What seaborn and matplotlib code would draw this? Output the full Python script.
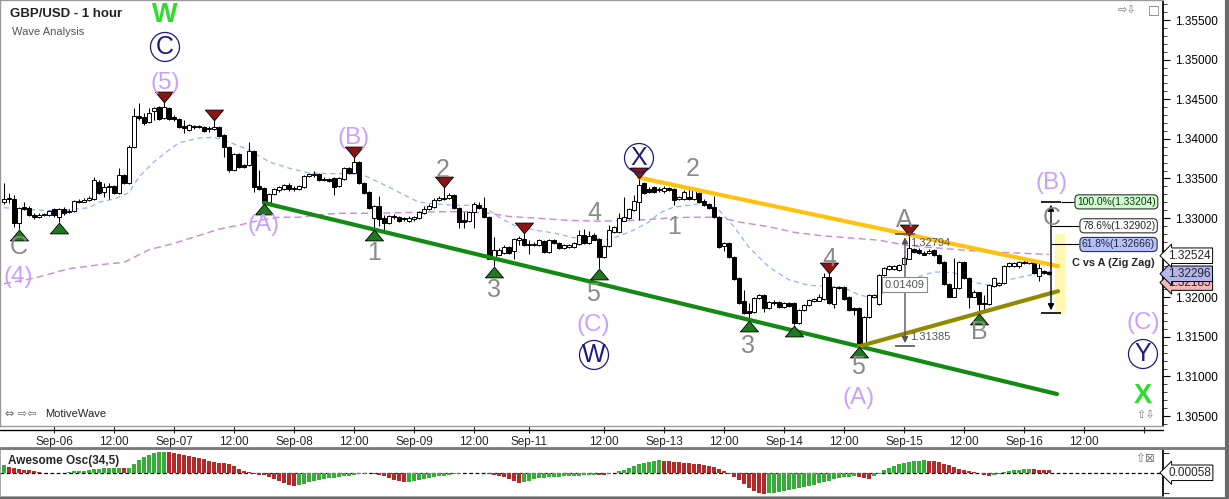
import numpy as np
import pandas as pd
import matplotlib
matplotlib.use("Agg")
import matplotlib.pyplot as plt
import seaborn as sns
from matplotlib.lines import Line2D
from matplotlib.path import Path
from matplotlib.patches import Rectangle
from matplotlib.ticker import MultipleLocator, FuncFormatter, NullFormatter

sns.set_theme(style="white")
plt.rcParams["font.family"] = ["Liberation Sans", "DejaVu Sans"]

# =========================
# 1. data (GBP/USD 1h bars)
# =========================
opens = [
    1.3321, 1.3324, 1.3324, 1.3294, 1.3314, 1.3313, 1.3304, 1.3302, 1.3304, 1.3304,
    1.3311, 1.3301, 1.3311, 1.3308, 1.3309, 1.3321, 1.3321, 1.3323, 1.3324, 1.3345,
    1.3333, 1.3339, 1.3340, 1.3332, 1.3354, 1.3344, 1.3390, 1.3429, 1.3428, 1.3421,
    1.3435, 1.3440, 1.3426, 1.3439, 1.3428, 1.3425, 1.3416, 1.3411, 1.3416, 1.3415,
    1.3415, 1.3412, 1.3412, 1.3415, 1.3405, 1.3390, 1.3361, 1.3381, 1.3367, 1.3367,
    1.3385, 1.3340, 1.3338, 1.3320, 1.3330, 1.3335, 1.3337, 1.3342, 1.3337, 1.3337,
    1.3339, 1.3353, 1.3354, 1.3356, 1.3349, 1.3349, 1.3351, 1.3340, 1.3349, 1.3363,
    1.3357, 1.3371, 1.3344, 1.3333, 1.3300, 1.3315, 1.3300, 1.3294, 1.3302, 1.3301,
    1.3300, 1.3296, 1.3299, 1.3300, 1.3306, 1.3311, 1.3314, 1.3323, 1.3324, 1.3325,
    1.3329, 1.3313, 1.3297, 1.3296, 1.3308, 1.3316, 1.3313, 1.3301, 1.3249, 1.3254,
    1.3256, 1.3263, 1.3258, 1.3272, 1.3273, 1.3267, 1.3266, 1.3266, 1.3271, 1.3257,
    1.3272, 1.3268, 1.3262, 1.3263, 1.3263, 1.3267, 1.3278, 1.3268, 1.3278, 1.3273,
    1.3251, 1.3265, 1.3282, 1.3282, 1.3297, 1.3300, 1.3310, 1.3321, 1.3344, 1.3337,
    1.3339, 1.3335, 1.3334, 1.3338, 1.3337, 1.3324, 1.3324, 1.3326, 1.3324, 1.3332,
    1.3321, 1.3318, 1.3314, 1.3301, 1.3265, 1.3268, 1.3251, 1.3224, 1.3195, 1.3183,
    1.3181, 1.3199, 1.3203, 1.3186, 1.3194, 1.3194, 1.3188, 1.3193, 1.3193, 1.3167,
    1.3184, 1.3190, 1.3195, 1.3196, 1.3198, 1.3225, 1.3191, 1.3213, 1.3213, 1.3200,
    1.3186, 1.3186, 1.3141, 1.3175, 1.3200, 1.3191, 1.3228, 1.3236, 1.3236, 1.3234,
    1.3242, 1.3249, 1.3261, 1.3260, 1.3256, 1.3256, 1.3260, 1.3253, 1.3244, 1.3217,
    1.3201, 1.3212, 1.3244, 1.3224, 1.3201, 1.3206, 1.3193, 1.3191, 1.3214, 1.3215,
    1.3218, 1.3239, 1.3239, 1.3239, 1.3243, 1.3243, 1.3246, 1.3227, 1.3233, 1.3232,
]
highs = [
    1.3344, 1.3332, 1.3329, 1.3314, 1.3320, 1.3315, 1.3306, 1.3306, 1.3306, 1.3310,
    1.3313, 1.3313, 1.3314, 1.3311, 1.3323, 1.3324, 1.3325, 1.3328, 1.3352, 1.3348,
    1.3344, 1.3344, 1.3342, 1.3363, 1.3356, 1.3392, 1.3439, 1.3445, 1.3433, 1.3439,
    1.3440, 1.3441, 1.3447, 1.3440, 1.3430, 1.3426, 1.3424, 1.3419, 1.3417, 1.3417,
    1.3416, 1.3416, 1.3424, 1.3416, 1.3406, 1.3391, 1.3382, 1.3382, 1.3368, 1.3396,
    1.3386, 1.3361, 1.3339, 1.3332, 1.3338, 1.3340, 1.3343, 1.3344, 1.3340, 1.3342,
    1.3354, 1.3357, 1.3359, 1.3357, 1.3352, 1.3351, 1.3352, 1.3352, 1.3364, 1.3364,
    1.3377, 1.3372, 1.3345, 1.3334, 1.3316, 1.3328, 1.3304, 1.3304, 1.3305, 1.3302,
    1.3301, 1.3302, 1.3302, 1.3309, 1.3315, 1.3318, 1.3325, 1.3328, 1.3339, 1.3332,
    1.3330, 1.3314, 1.3308, 1.3309, 1.3320, 1.3320, 1.3326, 1.3302, 1.3276, 1.3262,
    1.3266, 1.3265, 1.3275, 1.3277, 1.3281, 1.3272, 1.3270, 1.3273, 1.3272, 1.3273,
    1.3273, 1.3270, 1.3267, 1.3267, 1.3270, 1.3285, 1.3286, 1.3284, 1.3281, 1.3275,
    1.3266, 1.3291, 1.3290, 1.3306, 1.3326, 1.3313, 1.3329, 1.3351, 1.3345, 1.3339,
    1.3340, 1.3339, 1.3340, 1.3339, 1.3338, 1.3328, 1.3335, 1.3338, 1.3338, 1.3333,
    1.3324, 1.3319, 1.3328, 1.3302, 1.3270, 1.3270, 1.3252, 1.3225, 1.3209, 1.3193,
    1.3200, 1.3204, 1.3204, 1.3195, 1.3196, 1.3195, 1.3194, 1.3194, 1.3194, 1.3185,
    1.3191, 1.3198, 1.3199, 1.3204, 1.3231, 1.3231, 1.3214, 1.3214, 1.3214, 1.3201,
    1.3188, 1.3188, 1.3176, 1.3204, 1.3204, 1.3229, 1.3238, 1.3241, 1.3241, 1.3242,
    1.3252, 1.3279, 1.3262, 1.3262, 1.3258, 1.3261, 1.3261, 1.3254, 1.3246, 1.3218,
    1.3249, 1.3246, 1.3246, 1.3225, 1.3209, 1.3207, 1.3203, 1.3217, 1.3225, 1.3219,
    1.3241, 1.3244, 1.3244, 1.3246, 1.3247, 1.3249, 1.3247, 1.3243, 1.3234, 1.3233,
]
lows = [
    1.3318, 1.3319, 1.3289, 1.3286, 1.3310, 1.3302, 1.3299, 1.3300, 1.3302, 1.3302,
    1.3301, 1.3295, 1.3304, 1.3306, 1.3308, 1.3319, 1.3320, 1.3321, 1.3323, 1.3330,
    1.3326, 1.3324, 1.3330, 1.3330, 1.3343, 1.3343, 1.3388, 1.3424, 1.3417, 1.3420,
    1.3424, 1.3424, 1.3425, 1.3424, 1.3422, 1.3414, 1.3407, 1.3410, 1.3412, 1.3414,
    1.3409, 1.3409, 1.3411, 1.3402, 1.3377, 1.3358, 1.3359, 1.3363, 1.3363, 1.3366,
    1.3333, 1.3335, 1.3319, 1.3319, 1.3329, 1.3333, 1.3335, 1.3334, 1.3334, 1.3335,
    1.3338, 1.3352, 1.3352, 1.3347, 1.3347, 1.3345, 1.3329, 1.3339, 1.3348, 1.3356,
    1.3356, 1.3343, 1.3330, 1.3311, 1.3286, 1.3290, 1.3284, 1.3292, 1.3299, 1.3295,
    1.3296, 1.3295, 1.3296, 1.3299, 1.3305, 1.3310, 1.3313, 1.3321, 1.3323, 1.3324,
    1.3311, 1.3287, 1.3287, 1.3295, 1.3287, 1.3311, 1.3300, 1.3248, 1.3239, 1.3253,
    1.3254, 1.3254, 1.3248, 1.3266, 1.3265, 1.3254, 1.3265, 1.3265, 1.3256, 1.3256,
    1.3267, 1.3261, 1.3261, 1.3262, 1.3262, 1.3266, 1.3267, 1.3267, 1.3272, 1.3237,
    1.3249, 1.3263, 1.3281, 1.3281, 1.3296, 1.3299, 1.3309, 1.3297, 1.3330, 1.3332,
    1.3332, 1.3333, 1.3332, 1.3334, 1.3316, 1.3323, 1.3323, 1.3323, 1.3323, 1.3319,
    1.3315, 1.3311, 1.3300, 1.3262, 1.3258, 1.3249, 1.3222, 1.3191, 1.3179, 1.3171,
    1.3180, 1.3198, 1.3181, 1.3185, 1.3190, 1.3186, 1.3186, 1.3188, 1.3165, 1.3166,
    1.3183, 1.3189, 1.3194, 1.3195, 1.3196, 1.3191, 1.3186, 1.3210, 1.3196, 1.3183,
    1.3177, 1.3138, 1.3140, 1.3174, 1.3199, 1.3190, 1.3227, 1.3234, 1.3234, 1.3233,
    1.3241, 1.3248, 1.3256, 1.3254, 1.3253, 1.3254, 1.3252, 1.3242, 1.3215, 1.3200,
    1.3200, 1.3210, 1.3223, 1.3186, 1.3200, 1.3180, 1.3184, 1.3190, 1.3213, 1.3214,
    1.3217, 1.3238, 1.3238, 1.3237, 1.3242, 1.3242, 1.3229, 1.3220, 1.3229, 1.3228,
]
closes = [
    1.3324, 1.3325, 1.3294, 1.3313, 1.3311, 1.3304, 1.3301, 1.3304, 1.3305, 1.3309,
    1.3304, 1.3311, 1.3306, 1.3309, 1.3321, 1.3320, 1.3323, 1.3325, 1.3348, 1.3332,
    1.3339, 1.3340, 1.3332, 1.3354, 1.3345, 1.3390, 1.3429, 1.3426, 1.3420, 1.3433,
    1.3439, 1.3425, 1.3440, 1.3425, 1.3425, 1.3415, 1.3414, 1.3417, 1.3415, 1.3416,
    1.3410, 1.3414, 1.3415, 1.3404, 1.3390, 1.3361, 1.3381, 1.3364, 1.3364, 1.3385,
    1.3339, 1.3337, 1.3320, 1.3330, 1.3337, 1.3339, 1.3342, 1.3337, 1.3338, 1.3340,
    1.3353, 1.3356, 1.3356, 1.3348, 1.3348, 1.3347, 1.3339, 1.3351, 1.3363, 1.3357,
    1.3371, 1.3344, 1.3332, 1.3313, 1.3315, 1.3299, 1.3294, 1.3302, 1.3301, 1.3296,
    1.3299, 1.3300, 1.3301, 1.3308, 1.3311, 1.3315, 1.3323, 1.3325, 1.3325, 1.3329,
    1.3313, 1.3295, 1.3295, 1.3308, 1.3318, 1.3313, 1.3301, 1.3249, 1.3260, 1.3260,
    1.3263, 1.3256, 1.3273, 1.3275, 1.3266, 1.3266, 1.3267, 1.3272, 1.3257, 1.3272,
    1.3268, 1.3262, 1.3266, 1.3266, 1.3268, 1.3278, 1.3268, 1.3277, 1.3273, 1.3251,
    1.3265, 1.3285, 1.3289, 1.3300, 1.3301, 1.3311, 1.3321, 1.3342, 1.3332, 1.3333,
    1.3333, 1.3337, 1.3338, 1.3335, 1.3323, 1.3326, 1.3333, 1.3324, 1.3337, 1.3320,
    1.3316, 1.3313, 1.3301, 1.3263, 1.3268, 1.3251, 1.3223, 1.3193, 1.3180, 1.3180,
    1.3199, 1.3203, 1.3186, 1.3194, 1.3193, 1.3188, 1.3193, 1.3189, 1.3167, 1.3184,
    1.3190, 1.3196, 1.3198, 1.3200, 1.3225, 1.3193, 1.3213, 1.3212, 1.3198, 1.3184,
    1.3184, 1.3141, 1.3175, 1.3203, 1.3203, 1.3228, 1.3237, 1.3239, 1.3239, 1.3241,
    1.3249, 1.3262, 1.3257, 1.3256, 1.3254, 1.3258, 1.3253, 1.3243, 1.3217, 1.3201,
    1.3212, 1.3244, 1.3224, 1.3201, 1.3207, 1.3191, 1.3191, 1.3215, 1.3224, 1.3218,
    1.3239, 1.3243, 1.3243, 1.3244, 1.3244, 1.3246, 1.3231, 1.3237, 1.3231, 1.3230,
]

# moving averages, read at a few bars
fast_ma_bar = [0, 7, 11, 17, 19, 22, 25, 26, 27, 30, 33, 35, 39, 42, 45, 49, 53, 57, 61, 65,
               69, 72, 74, 77, 81, 83, 86, 90, 94, 97, 99, 102, 106, 110, 114, 118, 120, 123,
               126, 129, 131, 134, 137, 139, 141, 143, 146, 149, 153, 157, 161, 165, 168, 171,
               173, 176, 179, 182, 186, 190, 194, 197, 199, 203, 206, 209]
fast_ma = [1.3313, 1.3310, 1.3309, 1.3313, 1.3320, 1.3324, 1.3332, 1.3342, 1.3352, 1.3371,
           1.3386, 1.3395, 1.3401, 1.3402, 1.3396, 1.3386, 1.3371, 1.3363, 1.3357, 1.3356,
           1.3356, 1.3354, 1.3348, 1.3339, 1.3326, 1.3320, 1.3318, 1.3316, 1.3316, 1.3310,
           1.3301, 1.3291, 1.3285, 1.3281, 1.3275, 1.3275, 1.3272, 1.3277, 1.3285, 1.3295,
           1.3306, 1.3314, 1.3316, 1.3318, 1.3316, 1.3310, 1.3289, 1.3263, 1.3238, 1.3222,
           1.3215, 1.3214, 1.3212, 1.3203, 1.3200, 1.3205, 1.3213, 1.3224, 1.3232, 1.3231,
           1.3219, 1.3215, 1.3219, 1.3225, 1.3229, 1.3232]
slow_ma_bar = [0, 6, 13, 19, 24, 29, 34, 39, 43, 47, 51, 55, 59, 63, 67, 75, 87, 93, 97, 101,
               106, 113, 119, 126, 133, 137, 143, 147, 153, 158, 163, 175, 181, 187, 195, 202, 209]
slow_ma = [1.3217, 1.3224, 1.3236, 1.3241, 1.3244, 1.3260, 1.3268, 1.3278, 1.3286, 1.3291,
           1.3297, 1.3301, 1.3301, 1.3304, 1.3306, 1.3306, 1.3308, 1.3308, 1.3306, 1.3302,
           1.3300, 1.3297, 1.3296, 1.3297, 1.3300, 1.3301, 1.3301, 1.3295, 1.3289, 1.3282,
           1.3278, 1.3272, 1.3265, 1.3262, 1.3258, 1.3256, 1.3254]

# Awesome Osc(34,5), in pips
ao_pips = [
    19.1, 14.9, 12.5, 9.1, 6.6, 6.0, 3.3, 1.7, 0.5, -0.3,
    -0.5, -0.4, 0.2, 2.5, 3.3, 4.2, 5.0, 6.6, 8.3, 10.0,
    10.8, 11.6, 11.9, 12.2, 11.5, 12.5, 20.8, 31.5, 38.2, 44.0,
    49.8, 51.5, 52.0, 50.6, 48.1, 45.7, 44.0, 41.5, 38.2, 35.7,
    33.2, 29.9, 27.4, 24.9, 23.2, 20.8, 16.6, 10.0, 5.0, 1.7,
    -2.5, -5.0, -6.6, -10.0, -14.9, -19.9, -26.6, -31.5, -33.2, -30.7,
    -27.4, -24.1, -21.6, -19.1, -16.6, -14.1, -12.5, -10.8, -9.1, -7.5,
    -5.8, -4.2, -2.5, -1.7, -2.5, -5.0, -8.3, -13.3, -17.4, -20.8,
    -23.2, -22.4, -20.8, -18.3, -15.8, -13.3, -11.2, -9.1, -7.5, -5.8,
    -4.2, -2.5, -1.7, -0.8, -1.2, -0.5, -1.7, -3.3, -5.0, -7.5,
    -10.8, -15.8, -20.8, -24.9, -23.2, -19.9, -16.6, -14.1, -12.5, -11.6,
    -10.8, -10.0, -9.1, -8.7, -8.3, -7.5, -6.6, -5.8, -5.0, -5.4,
    -5.8, -3.3, -0.8, 3.3, 7.5, 11.6, 16.6, 20.8, 24.1, 27.4,
    29.9, 30.7, 29.9, 28.2, 26.6, 25.7, 24.1, 23.2, 22.4, 21.6,
    19.9, 17.4, 14.1, 10.0, 4.2, -4.2, -10.0, -18.3, -29.1, -37.4,
    -45.7, -49.8, -52.3, -51.5, -49.8, -48.1, -45.7, -43.2, -41.5, -39.0,
    -36.5, -33.2, -29.9, -26.6, -23.2, -19.9, -16.6, -14.1, -11.6, -10.0,
    -8.3, -10.0, -13.3, -14.9, -8.3, -2.5, 6.6, 11.6, 16.6, 20.8,
    24.9, 27.4, 29.1, 29.9, 30.7, 30.2, 29.1, 26.6, 22.4, 18.3,
    14.1, 10.0, 6.6, 4.2, 1.7, -1.7, -5.0, -8.3, -6.6, -3.3,
    0.8, 3.3, 5.8, 7.5, 9.1, 9.5, 8.3, 7.5, 6.6, 5.8,
]

tick_bars = [10, 22, 34, 46, 58, 70, 82, 94, 105, 120, 132, 144, 156, 168, 180, 192, 204, 216, 228]
tick_labels = ["Sep-06", "12:00", "Sep-07", "12:00", "Sep-08", "12:00", "Sep-09", "12:00",
               "Sep-11", "12:00", "Sep-13", "12:00", "Sep-14", "12:00", "Sep-15", "12:00",
               "Sep-16", "12:00", ""]

# wave labels: text, style, bar position, price position
wave_text = ["W", "C", "(5)", "C", "(4)", "(A)", "(B)", "1", "2", "3", "4", "5", "(C)", "W",
             "X", "2", "1", "3", "4", "A", "5", "(A)", "B", "(B)", "C", "(C)", "Y", "X"]
wave_kind = ["green", "circle", "purple", "gray", "purple", "purple", "purple", "gray", "gray",
             "gray", "gray", "gray", "purple", "circle", "circle", "gray", "gray", "gray", "gray",
             "gray", "gray", "purple", "gray", "purple", "gray", "purple", "circle", "green"]
wave_bar = [32.2, 32.2, 32.2, 3.0, 2.8, 52.0, 70.0, 74.0, 87.8, 98.0, 118.0, 117.8, 117.8, 118.0,
            127.0, 137.8, 134.0, 148.8, 165.0, 180.0, 170.8, 171.0, 195.0, 209.6, 209.6, 227.8,
            227.8, 227.8]
wave_price = [1.35564, 1.35160, 1.34705, 1.32660, 1.32256, 1.32912, 1.34011, 1.32596, 1.33632,
              1.32129, 1.33101, 1.32066, 1.31650, 1.31271, 1.33758, 1.33645, 1.32912, 1.31422,
              1.32508, 1.33001, 1.31145, 1.30728, 1.31587, 1.33442, 1.33038, 1.31675, 1.31283,
              1.30750]

swing_low_bars = [3, 11, 52, 74, 98, 119, 149, 158, 171, 195]
swing_high_bars = [32, 42, 70, 88, 104, 127, 165, 181]

# measurements
a_high, a_low = 1.32794, 1.31385
fib_top, fib_bottom = 1.33204, 1.31800
fib_levels = [1.33204, 1.32902, 1.32666]
fib_names = ["100.0%(1.33204)", "78.6%(1.32902)", "61.8%(1.32666)"]
fib_colors = ["#ccffcc", "#ffffff", "#b4c0ff"]
zone_top, zone_bottom = 1.3280, 1.3180

last_price, slow_last, third_last = 1.32296, 1.32524, 1.32185

bars = pd.DataFrame({"open": opens, "high": highs, "low": lows, "close": closes})
bars["bar"] = np.arange(len(bars))

# =========================
# 2. figure layout
# =========================
W, H = 1229, 499
fig = plt.figure(figsize=(W / 100, H / 100), dpi=100)
fig.patch.set_facecolor("white")
ax = fig.add_axes([0, 1 - 426 / H, 1163 / W, 426 / H])
ao_ax = fig.add_axes([0, 2 / H, 1163 / W, 48 / H])

ax.set_xlim(-0.8, 231.8)
ax.set_ylim(1.30374, 1.35753)
ao_ax.set_xlim(-0.8, 231.8)
ao_ax.set_ylim(-0.006075, 0.005925)

# =========================
# 3. candles + averages
# =========================
up = bars["close"] >= bars["open"]
ax.vlines(bars["bar"], bars["low"], bars["high"], color="black", lw=0.75, zorder=3)
ax.bar(bars["bar"], (bars["close"] - bars["open"]).abs() + 0.00003,
       bottom=bars[["open", "close"]].min(axis=1) - 0.000015, width=0.68,
       color=np.where(up, "white", "black"), edgecolor="black", linewidth=0.7, zorder=4)

sns.lineplot(x=fast_ma_bar, y=fast_ma, ax=ax, color="#8fb3ff", lw=0.9,
             linestyle=(0, (4, 3)), zorder=2)
sns.lineplot(x=slow_ma_bar, y=slow_ma, ax=ax, color="#c68ad6", lw=1.0,
             linestyle=(0, (5, 3)), zorder=2)


def trend(b1, p1, b2, p2, end, color):
    slope = (p2 - p1) / (b2 - b1)
    sns.lineplot(x=[b1, end], y=[p1, p1 + slope * (end - b1)], ax=ax, color=color,
                 lw=3, zorder=5)


trend(52, lows[52], 171, lows[171], 210.6, "#138a13")
trend(127, highs[127], 181, highs[181], 210.8, "#ffc20e")
trend(171, lows[171], 195, lows[195], 210.8, "#8f8a00")

ax.add_patch(Rectangle((210.2, zone_bottom), 2.0, zone_top - zone_bottom,
                       facecolor="#fff7a0", edgecolor="none", alpha=0.85, zorder=1))

# swing markers
tri_up = Path([(-1, -0.6), (1, -0.6), (0, 0.6), (-1, -0.6)])
tri_dn = Path([(-1, 0.6), (1, 0.6), (0, -0.6), (-1, 0.6)])
px = (ax.get_ylim()[1] - ax.get_ylim()[0]) / 426
ax.plot(swing_low_bars, [lows[b] - 6 * px for b in swing_low_bars], ls="none",
        marker=tri_up, ms=13, mfc="#1f7a1f", mec="black", mew=0.6, zorder=6)
ax.plot(swing_high_bars, [highs[b] + 5 * px for b in swing_high_bars], ls="none",
        marker=tri_dn, ms=13, mfc="#8b1414", mec="black", mew=0.6, zorder=6)

# wave labels
for t, k, b, p in zip(wave_text, wave_kind, wave_bar, wave_price):
    if k == "green":
        ax.text(b, p, t, color="#2ddc2d", fontsize=19.5, fontweight="bold",
                ha="center", va="center", zorder=7)
    elif k == "purple":
        ax.text(b, p, t, color="#c9a0ff", fontsize=17.5, ha="center", va="center", zorder=7)
    elif k == "gray":
        ax.text(b, p - 2.5 * px, t, color="#8a8a8a", fontsize=18, ha="center",
                va="center", zorder=7)
    else:
        ax.text(b, p, t, color="#1a1a80", fontsize=18, ha="center", va="center", zorder=7,
                bbox=dict(boxstyle="circle,pad=0.1", fc="none", ec="#1a1a80", lw=0.9))

# A measurement
ax.annotate("", xy=(180.2, a_high), xytext=(180.2, a_low),
            arrowprops=dict(arrowstyle="<|-|>", color="#555555", lw=1, mutation_scale=9),
            zorder=6)
ax.hlines([a_high, a_low], 178.2, 182.2, color="#555555", lw=1.2, zorder=6)
ax.text(181.3, a_high - 9 * px, "1.32794", fontsize=8, color="#555555", va="center", zorder=7)
ax.text(181.3, a_low + 9 * px, "1.31385", fontsize=8, color="#555555", va="center", zorder=7)
ax.text(180.1, 1.3216, "0.01409", fontsize=8, color="#555555", ha="center", va="center",
        zorder=8, bbox=dict(boxstyle="square,pad=0.25", fc="white", ec="#888888", lw=0.8))

# C vs A fib measurement
ax.annotate("", xy=(209.4, fib_top), xytext=(209.4, fib_bottom),
            arrowprops=dict(arrowstyle="<|-|>", color="black", lw=1, mutation_scale=9),
            zorder=6)
ax.hlines([fib_top, fib_bottom], 207.4, 211.4, color="black", lw=1.2, zorder=6)
for lev, name, fc, start, end in zip(fib_levels, fib_names, fib_colors,
                                      [211.4, 209.4, 209.4], [214.0, 215.0, 215.0]):
    ax.hlines(lev, start, end, color="black", lw=0.8, zorder=6)
    ax.text(end + 0.6, lev, name, fontsize=7.4, ha="left", va="center", zorder=8,
            bbox=dict(boxstyle="round,pad=0.2,rounding_size=0.4", fc=fc, ec="#333333", lw=0.8))
ax.text(213.5, 1.32432, "C vs A (Zig Zag)", fontsize=7.8, fontweight="bold",
        ha="left", va="center", zorder=8)

# =========================
# 4. axes styling
# =========================
ax.yaxis.tick_right()
ax.yaxis.set_major_locator(MultipleLocator(0.005))
ax.yaxis.set_minor_locator(MultipleLocator(0.001))
# the 1.32500 label sits under the 1.32524 tag in the reference
ax.yaxis.set_major_formatter(FuncFormatter(lambda v, pos: "" if abs(v - 1.325) < 1e-6
                                           else f"{v:.5f}"))
ax.tick_params(axis="y", which="major", direction="out", length=5, width=0.8,
               labelsize=8.5, pad=3.5, colors="black", right=True, left=False)
ax.tick_params(axis="y", which="minor", direction="out", length=3, width=0.6, right=True,
               left=False)
ax.set_xticks(tick_bars)
ax.set_xticklabels(tick_labels)
ax.tick_params(axis="x", direction="out", length=5, width=0.8, labelsize=8.5, pad=2,
               bottom=True)
for side in ["left", "top", "bottom"]:
    ax.spines[side].set_color("#9a9a9a")
    ax.spines[side].set_linewidth(1.0)
ax.spines["right"].set_color("black")
ax.grid(False)


def price_tag(axis, y, txt, fc):
    axis.text(1.0045, y, txt, transform=axis.get_yaxis_transform(), ha="left", va="center",
              fontsize=8.5, zorder=10, clip_on=False,
              bbox=dict(boxstyle="larrow,pad=0.15", fc=fc, ec="black", lw=0.7))


price_tag(ax, third_last, "1.32185", "#f2b8b8")
price_tag(ax, last_price, "1.32296", "#b4b4f0")
price_tag(ax, slow_last, "1.32524", "white")

# oscillator
ao_vals = np.array(ao_pips) / 10000
ao_col = ["#3aaa3a" if i == 0 or ao_vals[i] >= ao_vals[i - 1] else "#b22a2a"
          for i in range(len(ao_vals))]
ao_ax.bar(bars["bar"], ao_vals, width=0.72, color=ao_col, edgecolor="none", zorder=3)
ao_ax.axhline(0, color="black", lw=0.9, ls=(0, (3, 2)), zorder=2)
ao_ax.set_xticks([])
ao_ax.yaxis.tick_right()
ao_ax.set_yticks([-0.005, 0.005])
ao_ax.yaxis.set_major_formatter(NullFormatter())
ao_ax.tick_params(axis="y", direction="out", length=4, width=0.7, right=True, left=False)
for side in ["left", "top", "bottom"]:
    ao_ax.spines[side].set_color("#9a9a9a")
ao_ax.spines["right"].set_color("black")
price_tag(ao_ax, ao_vals[-1] - 0.0006, "0.00058", "white")
ao_ax.text(8 / 1163, 0.75, "Awesome Osc(34,5)", transform=ao_ax.transAxes, fontsize=8.5,
           fontweight="bold", ha="left", va="center")

# =========================
# 5. frame texts / icons
# =========================
fig.text(10 / W, 1 - 14 / H, "GBP/USD - 1 hour", fontsize=9.5, fontweight="bold",
         ha="left", va="center", color="#222222")
fig.text(12 / W, 1 - 32 / H, "Wave Analysis", fontsize=8, ha="left", va="center",
         color="#555555")
fig.text(5 / W, 1 - 414 / H, "⇔ ⇨⇦", fontsize=8, ha="left", va="center", color="#666666",
         family=["DejaVu Sans"])
fig.text(45 / W, 1 - 414 / H, "MotiveWave", fontsize=8, ha="left", va="center",
         color="#222222")
fig.text(1118 / W, 1 - 10 / H, "⇨⇩", fontsize=8, ha="left", va="center", color="#777777",
         family=["DejaVu Sans"])
fig.text(1148 / W, 1 - 10 / H, "□", fontsize=9, ha="left", va="center", color="#777777",
         family=["DejaVu Sans"])
fig.text(1136 / W, 1 - 415 / H, "⇧⇩", fontsize=8, ha="left", va="center", color="#777777",
         family=["DejaVu Sans"])
fig.text(1135 / W, 1 - 459 / H, "⇧⊠", fontsize=8.5, ha="left", va="center", color="#777777",
         family=["DejaVu Sans"])

fig.add_artist(Line2D([0, 1163 / W], [1 - 430 / H, 1 - 430 / H], color="black", lw=1))
fig.add_artist(Line2D([0, 1], [1 - 447.5 / H, 1 - 447.5 / H], color="#7a7a7a", lw=2))
fig.add_artist(Line2D([1 - 2 / W, 1 - 2 / W], [0, 1], color="#6a6a6a", lw=3))
fig.add_artist(Line2D([0, 1], [1 / H, 1 / H], color="#6a6a6a", lw=2))

fig.savefig("out.png", dpi=100)
